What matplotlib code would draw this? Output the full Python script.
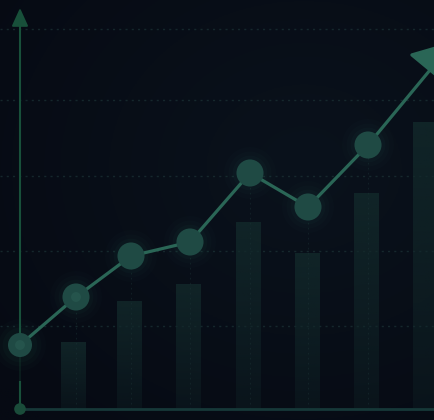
import numpy as np
import matplotlib.pyplot as plt

# positions along the baseline; the trend points sit on 0..6, the bars on 1..7
point_x = [0, 56, 111, 170, 230, 288, 348]
point_vals = [64, 112, 153, 167, 236, 202, 264]
bar_x = [54, 110, 169, 229, 288, 347, 406]
bar_vals = [67, 108, 125, 187, 156, 216, 287]
trend_end = (434, 368)
grid_levels = [83, 158, 233, 309, 380]
axis_top = 401

bg = '#070c16'
line_col = '#2a6656'
dot_col = '#1f4a44'
axis_col = '#18503a'
grid_col = '#1c3336'

fig = plt.figure(figsize=(4.35, 4.2), dpi=100)
ax = fig.add_axes([0, 0, 1, 1])
ax.set_xlim(-20, 415)
ax.set_ylim(-11, 409)
ax.axis('off')
fig.patch.set_facecolor(bg)

# soft vignette in the background
yy, xx = np.mgrid[0:1:200j, 0:1:200j]
r = np.sqrt(((xx - 0.7) / 0.9) ** 2 + ((yy - 0.6) / 0.8) ** 2)
shade = np.clip(1 - r, 0, 1)
base = np.array([6, 10, 19]) / 255
light = np.array([10, 18, 28]) / 255
img = base + (light - base) * shade[..., None]
ax.imshow(img, extent=[-20, 415, -11, 409], origin='lower', aspect='auto', zorder=0)

# dotted guide lines
for g in grid_levels:
    ax.axhline(g, color=grid_col, lw=1.0, ls=(0, (1.5, 3)), alpha=0.7, zorder=1)

# bars with a vertical fade
bars = ax.bar(bar_x, bar_vals, width=25, color='none', zorder=2)
fade_img = np.zeros((100, 1, 4))
fade_img[..., :3] = np.array([18, 40, 42]) / 255
fade_img[:, 0, 3] = np.linspace(0.3, 0.85, 100)
for b in bars:
    x0, w, h = b.get_x(), b.get_width(), b.get_height()
    im = ax.imshow(fade_img, extent=[x0, x0 + w, 0, h], origin='lower',
                   aspect='auto', zorder=2)
    im.set_clip_path(b)

# faint drop lines from each point
for px, pv in zip(point_x[1:], point_vals[1:]):
    ax.plot([px, px], [0, pv], color=grid_col, lw=0.8, ls=(0, (1.5, 3)), alpha=0.45, zorder=2)

# axes
ax.plot([0, 415], [0, 0], color='#163838', lw=2.0, zorder=3)
ax.annotate('', xy=(0, axis_top), xytext=(0, point_vals[0]),
            arrowprops=dict(arrowstyle='-|>,head_length=0.55,head_width=0.25',
                            color=axis_col, lw=1.5, shrinkA=0, shrinkB=0,
                            mutation_scale=20), zorder=3)
ax.plot([0, 0], [0, 27], color=axis_col, lw=1.5, zorder=3)
ax.plot([0, 0], [27, point_vals[0]], color=axis_col, lw=1.2, alpha=0.3, zorder=3)
ax.scatter([0], [0], s=70, color='#1a4c3a', zorder=4, edgecolors='none')

# trend line with arrow
ax.plot(point_x, point_vals, color=line_col, lw=2.3, zorder=5, solid_capstyle='round')
ax.annotate('', xy=trend_end, xytext=(point_x[-1], point_vals[-1]),
            arrowprops=dict(arrowstyle='-|>,head_length=0.5,head_width=0.34',
                            color=line_col, lw=2.3, shrinkA=0, shrinkB=0,
                            mutation_scale=50),
            annotation_clip=False, zorder=5)

# glowing markers
for s, a in [(1400, 0.03), (950, 0.045), (620, 0.06)]:
    ax.scatter(point_x, point_vals, s=s, color='#2a6a5a', alpha=a, edgecolors='none', zorder=4)
ax.scatter(point_x, point_vals, s=[300] + [380] * 6, color=dot_col, edgecolors='none', zorder=6)
ax.scatter(point_x[:2], point_vals[:2], s=50, color='#2a5c52', alpha=0.6, edgecolors='none', zorder=6)

fig.savefig('out.png', dpi=100, facecolor=bg)
